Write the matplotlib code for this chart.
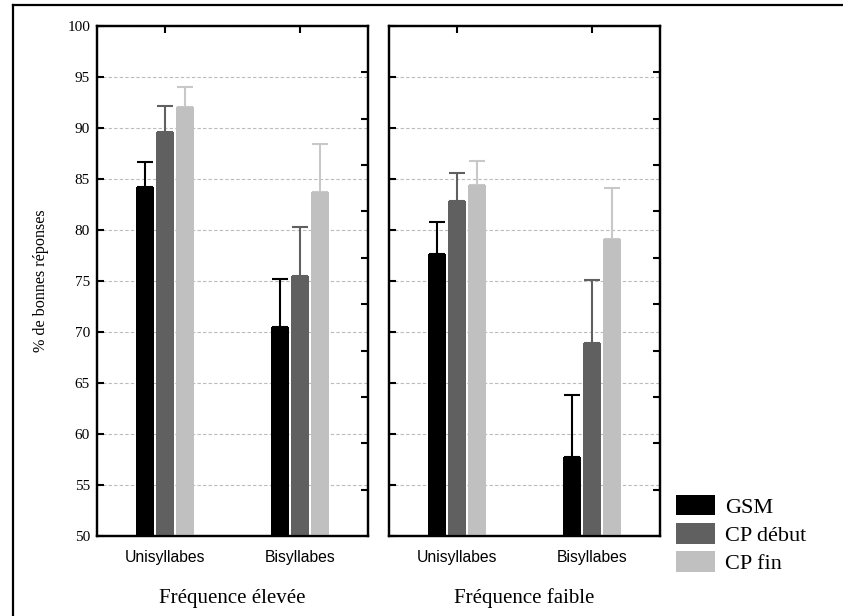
import numpy as np
import matplotlib
matplotlib.use("Agg")
import matplotlib.pyplot as plt
from matplotlib.patches import Patch
from matplotlib.lines import Line2D

plt.rcParams['font.family'] = ['Liberation Serif', 'DejaVu Serif']

categories = ["Unisyllabes", "Bisyllabes"]
panels = ["Fréquence élevée", "Fréquence faible"]
groups = ["GSM", "CP début", "CP fin"]
colors = ["#000000", "#606060", "#c0c0c0"]
err_colors = ["#000000", "#606060", "#c8c8c8"]

# means (panel -> group -> category)
means = {
    "Fréquence élevée": {"GSM": [84.2, 70.5], "CP début": [89.6, 75.5], "CP fin": [92.1, 83.7]},
    "Fréquence faible": {"GSM": [77.6, 57.7], "CP début": [82.8, 68.9], "CP fin": [84.4, 79.1]},
}
# upper end of the error bars
tops = {
    "Fréquence élevée": {"GSM": [86.7, 75.2], "CP début": [92.2, 80.3], "CP fin": [94.0, 88.4]},
    "Fréquence faible": {"GSM": [80.8, 63.8], "CP début": [85.6, 75.1], "CP fin": [86.8, 84.1]},
}

fig = plt.figure(figsize=(8.43, 6.16), dpi=100)

# frame around the figure (only top and left visible)
fig.add_artist(Line2D([12.5 / 843, 12.5 / 843], [0, 1 - 5 / 616], color="black", lw=1.6))
fig.add_artist(Line2D([12.5 / 843, 1], [1 - 5 / 616, 1 - 5 / 616], color="black", lw=1.6))

x = np.arange(len(categories))
pitch = 0.1476
width = 0.133
lefts = [97, 389]

for i, panel in enumerate(panels):
    ax = fig.add_axes([lefts[i] / 843, 1 - 536 / 616, 271 / 843, 510 / 616])
    for j, g in enumerate(groups):
        pos = x + (j - 1) * pitch
        m = np.array(means[panel][g])
        t = np.array(tops[panel][g])
        ax.bar(pos, m - 50, width, bottom=50, color=colors[j], zorder=3)
        ax.errorbar(pos, m, yerr=[np.zeros_like(m), t - m], fmt="none",
                    ecolor=err_colors[j], elinewidth=1.5, capsize=5.5,
                    capthick=1.5, zorder=2)
    ax.set_xlim(-0.5, 1.5)
    ax.set_ylim(50, 100)
    ax.set_yticks(np.arange(50, 101, 5))
    ax.set_xticks(x)
    ax.set_xticklabels(categories, family=["Liberation Sans"], fontsize=11.3)
    ax.yaxis.grid(True, linestyle=(0, (3, 2)), color="#bbbbbb", lw=0.8)
    ax.set_axisbelow(True)
    ax.tick_params(axis="both", direction="in", length=5, width=1.5,
                   top=True, bottom=True, left=True, right=False)
    ax.tick_params(axis="x", pad=10)
    ax.tick_params(axis="y", labelsize=11, pad=5)
    if i == 0:
        ax.set_ylabel("% de bonnes réponses", fontsize=11.6, labelpad=13)
    else:
        ax.set_yticklabels([])
    for s in ax.spines.values():
        s.set_linewidth(1.6)
    ax2 = ax.twinx()
    ax2.set_ylim(50, 100)
    ax2.set_yticks(np.linspace(50, 100, 12)[1:-1])
    ax2.set_yticklabels([])
    ax2.tick_params(direction="in", length=5, width=1.5)
    for s in ax2.spines.values():
        s.set_linewidth(1.6)
    ax.set_xlabel(panel, fontsize=15, labelpad=17)

handles = [Patch(facecolor=c) for c in colors]
fig.legend(handles, groups, loc="upper left", bbox_to_anchor=(676 / 843, 1 - 495 / 616),
           frameon=False, fontsize=16, handlelength=1.76, handleheight=1.04,
           labelspacing=0.24, handletextpad=0.45, borderpad=0, borderaxespad=0)

fig.savefig("out.png", dpi=100)
